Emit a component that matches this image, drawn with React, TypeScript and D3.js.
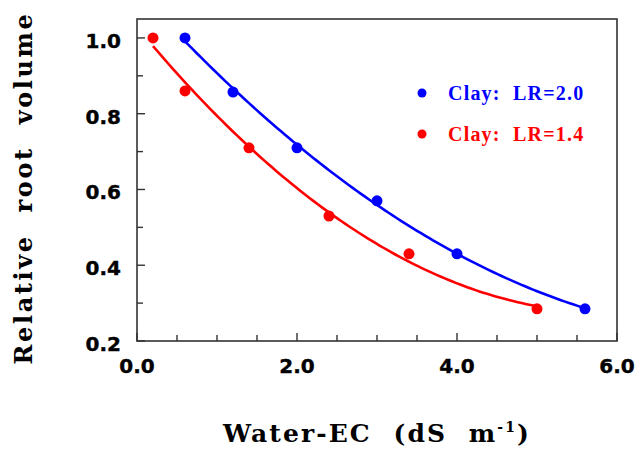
import React from "react";
import * as d3 from "d3";

const blueX = [0.6, 1.2, 2.0, 3.0, 4.0, 5.6];
const blueY = [1.0, 0.857, 0.71, 0.57, 0.43, 0.285];
const redX = [0.2, 0.6, 1.4, 2.4, 3.4, 5.0];
const redY = [1.0, 0.86, 0.71, 0.53, 0.43, 0.285];
const xTickLabels = ["0.0", "2.0", "4.0", "6.0"];
const yTickLabels = ["0.2", "0.4", "0.6", "0.8", "1.0"];
const seriesNames = ["Clay:  LR=2.0", "Clay:  LR=1.4"];
const seriesColors = ["#0000ff", "#ff0000"];

function quadFit(xs: number[], ys: number[]) {
  let s0 = 0, s1 = 0, s2 = 0, s3 = 0, s4 = 0, t0 = 0, t1 = 0, t2 = 0;
  xs.forEach((x, i) => {
    const y = ys[i];
    s0 += 1; s1 += x; s2 += x * x; s3 += x ** 3; s4 += x ** 4;
    t0 += y; t1 += x * y; t2 += x * x * y;
  });
  const M = [
    [s0, s1, s2, t0],
    [s1, s2, s3, t1],
    [s2, s3, s4, t2],
  ];
  for (let i = 0; i < 3; i++) {
    for (let k = i + 1; k < 3; k++) {
      const f = M[k][i] / M[i][i];
      for (let j = i; j < 4; j++) M[k][j] -= f * M[i][j];
    }
  }
  const c = M[2][3] / M[2][2];
  const b = (M[1][3] - M[1][2] * c) / M[1][1];
  const a = (M[0][3] - M[0][1] * b - M[0][2] * c) / M[0][0];
  return (x: number) => a + b * x + c * x * x;
}

export default function App() {
  const W = 636, H = 449;
  const left = 137, right = 617, top = 19, bottom = 341;
  const x = d3.scaleLinear().domain([0, 6]).range([left, right]);
  const y = d3.scaleLinear().domain([0.2, 1.05]).range([bottom, top]);

  const series = [
    { xs: blueX, ys: blueY, color: seriesColors[0], name: seriesNames[0] },
    { xs: redX, ys: redY, color: seriesColors[1], name: seriesNames[1] },
  ];

  const line = d3
    .line<[number, number]>()
    .x((d) => x(d[0]))
    .y((d) => y(d[1]));

  const xMinor = d3.range(0, 6.01, 0.5);
  const yMinor = d3.range(0.2, 1.051, 0.1);

  const tickFont = "'DejaVu Sans', sans-serif";
  const titleFont = "'DejaVu Serif', serif";
  const legendFont = "'Liberation Serif', 'Times New Roman', serif";

  return (
    <svg width={W} height={H} style={{ position: "absolute", left: 0, top: 0, background: "#fff" }}>
      <rect x={0} y={0} width={W} height={H} fill="#fff" />
      <rect x={left} y={top} width={right - left} height={bottom - top} fill="none" stroke="#333" strokeWidth={1.6} />
      {xMinor.map((v, i) => {
        const major = Math.abs(v % 2) < 1e-6;
        return (
          <line key={"xt" + i} x1={x(v)} x2={x(v)} y1={bottom} y2={bottom - (major ? 8 : 6)} stroke="#333" strokeWidth={1.4} />
        );
      })}
      {yMinor.map((v, i) => {
        const major = i % 2 === 0;
        return (
          <line key={"yt" + i} x1={left} x2={left + (major ? 8 : 6)} y1={y(v)} y2={y(v)} stroke="#333" strokeWidth={1.4} />
        );
      })}
      {xTickLabels.map((t) => (
        <text key={"xl" + t} x={x(+t)} y={373} textAnchor="middle" fontFamily={tickFont} fontWeight="bold" fontSize={20} fill="#000" stroke="#000" strokeWidth={0.4}>
          {t}
        </text>
      ))}
      {yTickLabels.map((t) => (
        <text key={"yl" + t} x={121} y={y(+t) + 10} textAnchor="end" fontFamily={tickFont} fontWeight="bold" fontSize={20} fill="#000" stroke="#000" strokeWidth={0.4}>
          {t}
        </text>
      ))}
      {series.map((s, si) => {
        const f = quadFit(s.xs, s.ys);
        const x0 = s.xs[0], x1 = s.xs[s.xs.length - 1];
        const pts: [number, number][] = d3.range(0, 101).map((k) => {
          const xv = x0 + ((x1 - x0) * k) / 100;
          return [xv, f(xv)];
        });
        return (
          <g key={"s" + si}>
            <path d={line(pts) || ""} fill="none" stroke={s.color} strokeWidth={2.6} />
            {s.xs.map((xv, i) => (
              <circle key={i} cx={x(xv)} cy={y(s.ys[i])} r={5.5} fill={s.color} />
            ))}
          </g>
        );
      })}
      {series.map((s, si) => (
        <g key={"lg" + si}>
          <circle cx={422} cy={93 + si * 41} r={4.5} fill={s.color} />
          <text x={448} y={100 + si * 41} fontFamily={legendFont} fontWeight="bold" fontSize={20} letterSpacing={1.2} fill={s.color} style={{ whiteSpace: "pre" }}>
            {s.name}
          </text>
        </g>
      ))}
      <text
        transform={`translate(32,${(13 + 363) / 2}) rotate(-90)`}
        textAnchor="middle"
        fontFamily={titleFont}
        fontWeight="bold"
        fontSize={24}
        letterSpacing={2.6}
        fill="#000"
        style={{ whiteSpace: "pre" }}
      >
        {"Relative  root  volume"}
      </text>
      <text x={377} y={442} textAnchor="middle" fontFamily={titleFont} fontWeight="bold" fontSize={25} letterSpacing={2.1} fill="#000" style={{ whiteSpace: "pre" }}>
        {"Water-EC  (dS  m"}
        <tspan fontSize={14} dy={-10}>{"-1"}</tspan>
        <tspan dy={10}>{")"}</tspan>
      </text>
    </svg>
  );
}
